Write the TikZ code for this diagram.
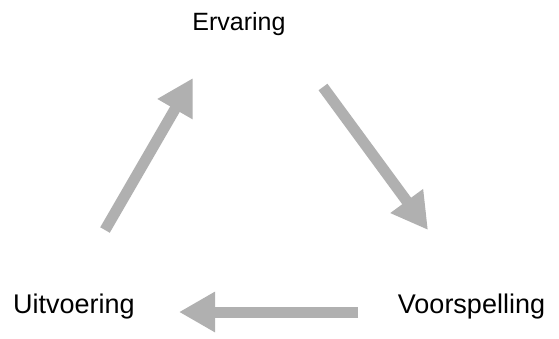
\documentclass[tikz,border=0pt]{standalone}
\usepackage{fontspec}
\setmainfont{Liberation Sans}
\usetikzlibrary{arrows.meta}
\definecolor{arrowgray}{HTML}{B0B0B0}
\tikzset{
  cyclearrow/.style={draw=arrowgray, line width=11pt, line cap=butt,
    -{Triangle[width=38pt,length=36pt,fill=arrowgray]}},
  toplabel/.style={anchor=base, inner sep=0pt, font=\fontsize{25pt}{30pt}\selectfont},
  botlabel/.style={anchor=base, inner sep=0pt, font=\fontsize{27pt}{32pt}\selectfont}
}
\begin{document}
\begin{tikzpicture}[x=1pt,y=1pt]
\useasboundingbox[fill=white] (0,0) rectangle (559,338);
\node[toplabel] (erv) at (239,307) {Ervaring};
\node[botlabel] (uit) at (74,25) {Uitvoering};
\node[botlabel] (voo) at (471.5,25) {Voorspelling};
\coordinate (a1s) at (105,108);
\coordinate (a1e) at (193,260);
\coordinate (a2s) at (323,251);
\coordinate (a2e) at (428,108);
\coordinate (a3s) at (358,26);
\coordinate (a3e) at (179,26);
\draw[cyclearrow] (a1s) -- (a1e);
\draw[cyclearrow] (a2s) -- (a2e);
\draw[cyclearrow] (a3s) -- (a3e);
\end{tikzpicture}
\end{document}
